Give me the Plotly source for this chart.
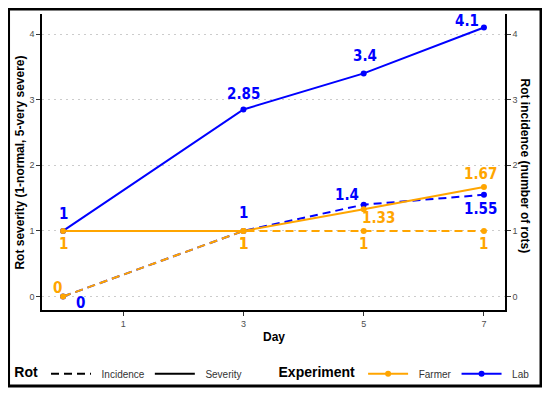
import plotly.graph_objects as go

# ---- data ----
days = [0, 3, 5, 7]
farmer_severity = [1, 1, 1.33, 1.67]
farmer_incidence = [0, 1, 1, 1]
lab_severity = [1, 2.85, 3.4, 4.1]
lab_incidence = [0, 1, 1.4, 1.55]
x_ticks = [1, 3, 5, 7]
y_ticks = [0, 1, 2, 3, 4]

ORANGE = "#FFA500"
BLUE = "#0000FF"
LABEL_FONT = "DejaVu Sans Condensed, Liberation Sans Narrow, Roboto, sans-serif"
BASE_FONT = "Arial, Liberation Sans, sans-serif"

# label offsets (px) per point: (xshift, yshift)
off_lab_sev = [(0, 17), (0, 15), (1, 17), (-17, 6)]
off_lab_inc = [(17, -6), (0, 18), (-17, 10), (-3, -14)]
off_far_sev = [(0, -13), (0, -13), (15, -9), (-3, 13)]
off_far_inc = [(-6, 9), (0, -13), (0, -13), (0, -13)]

fig = go.Figure()

series = [
    (lab_incidence, BLUE, "8px,5px", off_lab_inc),
    (lab_severity, BLUE, "solid", off_lab_sev),
    (farmer_incidence, ORANGE, "8px,5px", off_far_inc),
    (farmer_severity, ORANGE, "solid", off_far_sev),
]

annotations = []
for vals, col, dash, offs in series:
    fig.add_trace(go.Scatter(
        x=days, y=vals, mode="lines+markers",
        line=dict(color=col, width=2, dash=dash),
        marker=dict(color=col, size=6),
        showlegend=False, hoverinfo="x+y"))
    for d, v, (dx, dy) in zip(days, vals, offs):
        annotations.append(dict(
            x=d, y=v, xref="x", yref="y", text=f"{v:g}", showarrow=False,
            xshift=dx, yshift=dy,
            font=dict(family=LABEL_FONT, size=15, color=col, weight="bold")))

# legend entries
fig.add_trace(go.Scatter(x=[None], y=[None], mode="lines", name="  Incidence",
                         line=dict(color="black", width=2, dash="8px,5px"), legend="legend"))
fig.add_trace(go.Scatter(x=[None], y=[None], mode="lines", name="  Severity",
                         line=dict(color="black", width=2), legend="legend"))
fig.add_trace(go.Scatter(x=[None], y=[None], mode="lines+markers", name="  Farmer",
                         line=dict(color=ORANGE, width=2), marker=dict(color=ORANGE, size=6),
                         legend="legend2"))
fig.add_trace(go.Scatter(x=[None], y=[None], mode="lines+markers", name="  Lab",
                         line=dict(color=BLUE, width=2), marker=dict(color=BLUE, size=6),
                         legend="legend2"))
# dummy trace for right axis
fig.add_trace(go.Scatter(x=[None], y=[None], yaxis="y2", showlegend=False))

yr = [-0.205, 4.305]
tickfont = dict(family=BASE_FONT, size=9, color="#4d4d4d")

annotations += [
    dict(text="<b>Rot severity (1-normal, 5-very severe)</b>", textangle=-90,
         x=-0.0475, y=0.498, xref="paper", yref="paper", showarrow=False,
         xanchor="center", yanchor="middle",
         font=dict(family=BASE_FONT, size=12, color="black")),
    dict(text="<b>Rot incidence (number of rots)</b>", textangle=90,
         x=1.043, y=0.485, xref="paper", yref="paper", showarrow=False,
         xanchor="center", yanchor="middle",
         font=dict(family=BASE_FONT, size=12, color="black")),
    dict(text="<b>Day</b>", x=0.5, y=-0.09, xref="paper", yref="paper", showarrow=False,
         xanchor="center", yanchor="middle",
         font=dict(family=BASE_FONT, size=12, color="black")),
]

fig.update_layout(
    width=550, height=395,
    margin=dict(l=34, r=53, t=6, b=93, autoexpand=False),
    paper_bgcolor="white", plot_bgcolor="white",
    xaxis=dict(range=[-0.35, 7.35], tickvals=x_ticks, showgrid=False, zeroline=False,
               showline=True, linecolor="black", linewidth=1.5, ticks="outside",
               ticklen=4, tickcolor="#333", tickfont=tickfont),
    yaxis=dict(range=yr, tickvals=y_ticks, showgrid=True, gridcolor="#cccccc",
               griddash="2px,4px", gridwidth=1, zeroline=False, showline=True,
               linecolor="black", linewidth=1.5, ticks="outside", ticklen=4,
               tickcolor="#333", tickfont=tickfont),
    yaxis2=dict(range=yr, tickvals=y_ticks, overlaying="y", side="right",
                showgrid=False, zeroline=False, showline=True, linecolor="black",
                linewidth=1.5, ticks="outside", ticklen=4, tickcolor="#333",
                tickfont=tickfont),
    legend=dict(orientation="h", x=-0.064, y=-0.215, xanchor="left", yanchor="middle",
                title=dict(text="<b>Rot</b>", side="left",
                           font=dict(size=14, color="black", family=BASE_FONT)),
                font=dict(size=10, color="#333", family=BASE_FONT),
                bgcolor="rgba(0,0,0,0)", itemwidth=40, tracegroupgap=0),
    legend2=dict(orientation="h", x=0.5065, y=-0.215, xanchor="left", yanchor="middle",
                 title=dict(text="<b>Experiment</b>", side="left",
                            font=dict(size=14, color="black", family=BASE_FONT)),
                 font=dict(size=10, color="#333", family=BASE_FONT),
                 bgcolor="rgba(0,0,0,0)", itemwidth=40),
    annotations=annotations,
    shapes=[dict(type="rect", xref="paper", yref="paper",
                 x0=-0.0723, x1=1.0778, y0=-0.2568, y1=1.0169,
                 line=dict(color="black", width=3), fillcolor="rgba(0,0,0,0)")],
)

fig.write_html("out.html")
